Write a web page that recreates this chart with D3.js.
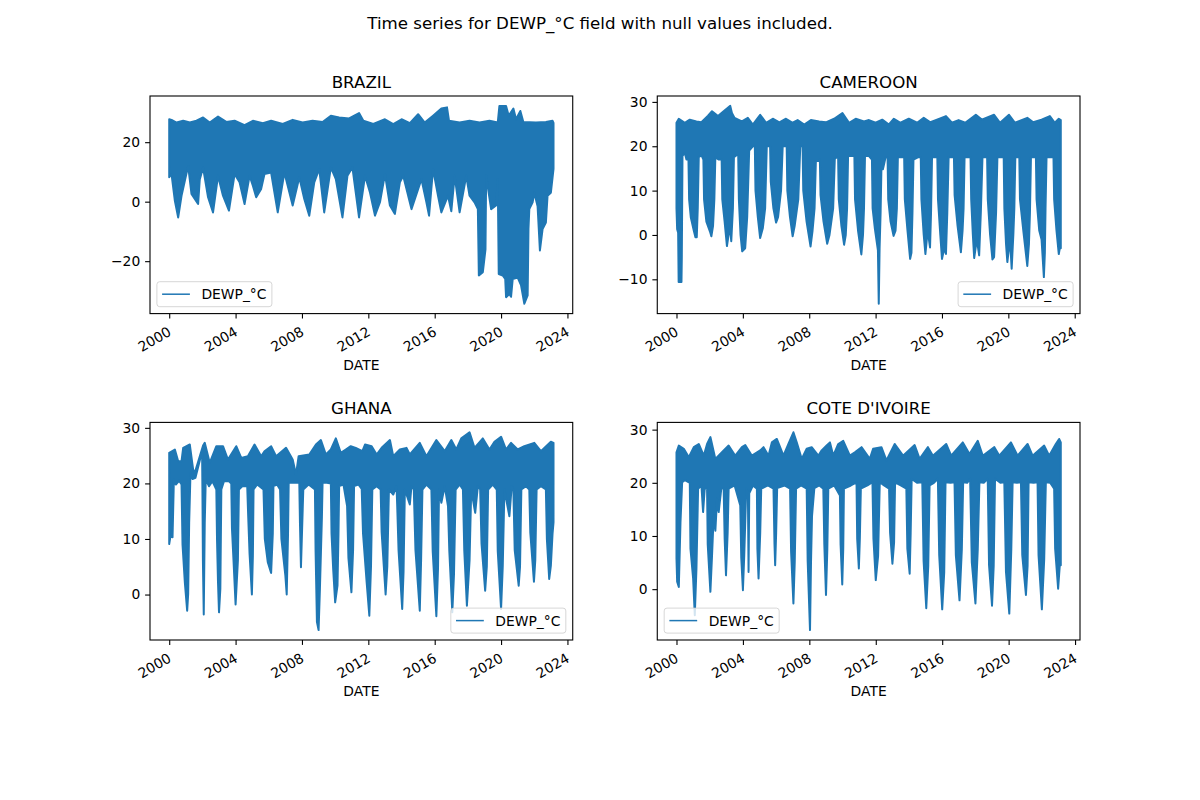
<!DOCTYPE html>
<html>
<head>
<meta charset="utf-8">
<script src="https://cdn.jsdelivr.net/npm/d3@7"></script>
<style>
  body { margin: 0; background: #fff; }
  svg { display: block; font-family: "DejaVu Sans", sans-serif; }
</style>
</head>
<body>
<svg id="chart" width="1200" height="800"></svg>
<script>
// values: [decimal year, dew point °C]
// each series is kept as its upper and lower envelope
const suptitle = "Time series for DEWP_°C field with null values included.";
const seriesName = "DEWP_°C";
const countries = ["BRAZIL", "CAMEROON", "GHANA", "COTE D'IVOIRE"];
const xTickYears = [2000, 2004, 2008, 2012, 2016, 2020, 2024];

const brazilTicks = [-20, 0, 20];
const cameroonTicks = [-10, 0, 10, 20, 30];
const ghanaTicks = [0, 10, 20, 30];
const ivoireTicks = [0, 10, 20, 30];

const brazilUpper = [[2000.0,27.7],[2000.14,27.5],[2000.44,26.6],[2000.84,27.2],[2001.24,26.6],[2001.64,27.2],[2002.04,28.3],[2002.44,26.6],[2002.94,28.6],[2003.44,26.8],[2003.94,27.2],[2004.54,25.7],[2005.04,27.2],[2005.64,26.4],[2006.14,27.2],[2006.84,26.1],[2007.44,27.5],[2008.04,26.6],[2008.64,27.2],[2009.24,26.8],[2009.74,28.9],[2010.24,28.3],[2010.84,28.0],[2011.44,29.8],[2011.7,27.2],[2012.3,26.1],[2013.0,27.7],[2013.5,26.1],[2014.0,27.7],[2014.5,26.4],[2015.0,29.4],[2015.4,26.6],[2015.9,28.9],[2016.4,31.3],[2016.74,31.7],[2016.86,27.2],[2017.5,26.6],[2018.1,27.2],[2018.7,26.6],[2019.3,27.2],[2019.8,26.6],[2019.9,32.2],[2020.3,32.2],[2020.46,28.9],[2020.74,31.3],[2020.9,27.7],[2021.16,30.5],[2021.34,26.8],[2022.1,26.6],[2022.7,26.8],[2023.1,27.2],[2023.16,26.5]];
const brazilLower = [[2000.0,8.2],[2000.14,9.3],[2000.34,0.3],[2000.54,-5.3],[2000.74,2.0],[2000.94,7.0],[2001.14,12.0],[2001.34,2.6],[2001.74,-0.8],[2001.84,7.5],[2002.04,11.5],[2002.34,1.5],[2002.64,-3.6],[2002.94,8.7],[2003.24,2.0],[2003.6,-3.0],[2003.94,9.3],[2004.24,6.5],[2004.54,-0.8],[2004.84,8.7],[2005.04,5.4],[2005.24,1.5],[2005.54,4.3],[2005.74,9.3],[2006.14,9.8],[2006.54,-3.6],[2006.94,9.8],[2007.44,-1.3],[2007.84,8.2],[2008.14,0.9],[2008.44,-4.7],[2008.74,6.5],[2009.04,11.0],[2009.34,-3.6],[2009.74,11.5],[2010.04,7.6],[2010.44,-5.3],[2010.74,8.7],[2011.04,11.5],[2011.44,-5.3],[2011.8,8.7],[2012.1,3.1],[2012.4,-4.7],[2012.7,-0.2],[2013.0,9.3],[2013.3,-1.3],[2013.6,-4.1],[2013.9,6.5],[2014.1,8.7],[2014.6,-2.5],[2015.2,7.6],[2015.5,-0.2],[2015.66,-4.7],[2015.9,11.0],[2016.2,2.0],[2016.4,-3.6],[2016.8,2.0],[2017.0,-3.2],[2017.2,8.7],[2017.5,-3.6],[2017.9,8.7],[2018.1,2.0],[2018.4,-0.2],[2018.6,-2.5],[2018.66,-24.8],[2018.9,-23.7],[2019.06,-16.0],[2019.1,8.7],[2019.4,-2.5],[2019.7,-1.3],[2019.8,7.6],[2019.86,-24.3],[2020.1,-24.8],[2020.25,-26.0],[2020.3,-32.1],[2020.5,-31.0],[2020.6,-32.0],[2020.7,-26.0],[2021.0,-25.5],[2021.2,-28.0],[2021.4,-34.3],[2021.6,-31.5],[2021.65,-9.0],[2021.7,-2.5],[2021.9,-0.2],[2022.0,3.0],[2022.2,-1.5],[2022.34,-16.4],[2022.5,-9.2],[2022.7,-7.0],[2022.8,2.0],[2023.0,3.0],[2023.16,11.0]];

const cameroonUpper = [[2000.0,25.3],[2000.14,26.2],[2000.5,25.3],[2000.8,26.0],[2001.2,25.6],[2001.5,25.4],[2001.9,26.9],[2002.14,27.9],[2002.5,26.8],[2002.84,27.9],[2003.24,29.1],[2003.34,27.5],[2003.5,26.4],[2003.94,25.6],[2004.3,26.4],[2004.6,24.9],[2005.04,27.1],[2005.4,25.3],[2005.8,26.2],[2006.2,25.4],[2006.6,26.2],[2007.0,25.3],[2007.3,25.9],[2007.7,24.9],[2008.1,25.9],[2008.6,25.6],[2009.0,25.4],[2009.5,26.2],[2010.0,27.5],[2010.4,25.3],[2010.8,26.2],[2011.3,25.6],[2011.6,25.9],[2012.0,25.3],[2012.4,26.0],[2012.8,24.9],[2013.1,26.2],[2013.5,25.3],[2014.0,26.2],[2014.5,25.3],[2014.9,26.4],[2015.3,25.4],[2015.7,26.0],[2016.24,26.8],[2016.6,25.3],[2017.0,25.9],[2017.4,25.3],[2018.04,27.1],[2018.4,26.0],[2019.14,27.1],[2019.5,25.3],[2020.04,27.1],[2020.4,25.3],[2021.14,26.4],[2021.5,25.4],[2022.0,26.0],[2022.5,26.8],[2022.8,25.3],[2023.04,26.2],[2023.16,25.9]];
const cameroonLower = [[2000.0,6.0],[2000.04,1.3],[2000.1,0.5],[2000.13,-10.6],[2000.3,-10.6],[2000.32,-5.0],[2000.36,17.8],[2000.5,18.5],[2000.6,17.0],
  [2000.72,17.0],[2000.76,8.0],[2000.86,4.0],[2001.04,1.0],[2001.14,-0.5],[2001.22,-0.5],[2001.28,6.0],[2001.34,17.5],[2001.5,18.0],
  [2001.62,17.0],[2001.66,8.0],[2001.8,3.0],[2002.04,0.5],[2002.1,-0.3],[2002.2,2.0],[2002.28,8.0],[2002.34,17.5],[2002.55,17.0],
  [2002.72,17.0],[2002.76,8.0],[2002.9,3.0],[2003.04,-2.5],[2003.14,0.0],[2003.22,2.0],[2003.3,-1.4],[2003.4,6.0],[2003.46,17.5],[2003.62,18.0],
  [2003.72,18.0],[2003.76,8.0],[2003.86,0.0],[2003.96,-3.7],[2004.14,-3.0],[2004.26,4.0],[2004.38,19.0],[2004.6,20.0],
  [2004.72,20.0],[2004.76,10.0],[2004.9,4.0],[2005.04,-0.7],[2005.2,1.5],[2005.34,6.0],[2005.44,20.0],[2005.56,20.0],
  [2005.64,20.0],[2005.68,12.0],[2005.84,6.0],[2006.0,2.8],[2006.12,4.0],[2006.3,10.0],[2006.4,20.0],[2006.55,20.0],
  [2006.64,20.0],[2006.68,10.0],[2006.84,4.0],[2007.0,-0.3],[2007.12,2.0],[2007.34,8.0],[2007.46,20.0],
  [2007.6,20.0],[2007.64,10.0],[2007.84,3.0],[2008.08,-2.6],[2008.2,1.0],[2008.32,6.0],[2008.4,16.7],[2008.55,16.7],
  [2008.64,17.0],[2008.68,9.0],[2008.86,3.0],[2009.08,-2.0],[2009.22,0.0],[2009.44,6.0],[2009.54,17.2],[2009.66,17.5],
  [2009.74,17.5],[2009.78,8.0],[2009.94,2.0],[2010.1,-2.2],[2010.2,0.0],[2010.28,6.0],[2010.34,17.8],[2010.6,17.8],
  [2010.72,17.8],[2010.76,8.0],[2010.94,1.0],[2011.14,-4.4],[2011.24,0.0],[2011.3,6.0],[2011.36,17.8],[2011.6,17.8],
  [2011.78,17.0],[2011.82,6.0],[2011.96,1.3],[2012.14,-3.5],[2012.19,-15.5],[2012.24,-3.0],[2012.3,5.0],[2012.36,17.0],[2012.44,14.8],[2012.6,17.5],
  [2012.72,17.5],[2012.76,8.0],[2012.9,3.0],[2013.08,-0.2],[2013.2,1.0],[2013.28,6.0],[2013.34,17.5],[2013.55,17.5],
  [2013.72,17.5],[2013.76,8.0],[2013.92,1.0],[2014.08,-5.4],[2014.16,-4.0],[2014.22,5.0],[2014.28,17.0],[2014.55,17.5],
  [2014.72,17.5],[2014.76,8.0],[2014.9,0.0],[2015.0,-4.3],[2015.14,1.0],[2015.28,-2.8],[2015.34,5.0],[2015.4,17.5],[2015.6,17.5],
  [2015.72,17.5],[2015.76,8.0],[2015.9,0.0],[2016.0,-5.4],[2016.14,-3.0],[2016.24,-4.3],[2016.32,5.0],[2016.4,17.5],[2016.6,17.5],
  [2016.72,17.5],[2016.76,9.0],[2016.94,2.0],[2017.14,-3.9],[2017.24,1.0],[2017.3,6.0],[2017.36,17.5],[2017.6,17.5],
  [2017.72,17.5],[2017.76,8.0],[2017.86,0.0],[2017.94,-5.2],[2018.1,-1.0],[2018.24,-4.6],[2018.34,5.0],[2018.44,17.5],[2018.6,17.5],
  [2018.72,17.5],[2018.76,8.0],[2018.9,0.0],[2019.04,-5.5],[2019.14,-5.0],[2019.26,5.0],[2019.34,17.5],[2019.6,17.5],
  [2019.72,17.5],[2019.76,6.0],[2019.86,-2.0],[2019.94,-6.1],[2020.1,-1.0],[2020.2,-7.6],[2020.3,0.0],[2020.36,6.0],[2020.42,17.5],[2020.56,17.5],
  [2020.66,17.5],[2020.7,8.0],[2020.9,1.0],[2021.14,-7.0],[2021.24,-2.0],[2021.3,5.0],[2021.36,17.5],[2021.56,17.5],
  [2021.66,17.5],[2021.7,8.0],[2021.86,1.0],[2022.0,-1.0],[2022.14,-9.5],[2022.2,-4.0],[2022.24,6.0],[2022.3,17.5],[2022.6,17.5],
  [2022.72,17.5],[2022.76,8.0],[2022.9,1.0],[2023.04,-4.3],[2023.1,-3.0],[2023.16,-3.0]];

const ghanaUpper = [[2000.0,25.5],[2000.34,26.1],[2000.54,24.0],[2000.74,24.0],[2000.84,26.4],[2001.24,27.0],[2001.44,22.5],[2001.54,21.9],[2002.04,26.8],[2002.14,27.3],[2002.44,23.7],[2002.84,26.7],[2003.24,26.7],[2003.54,24.3],[2004.04,26.7],[2004.34,24.6],[2004.74,24.9],[2005.14,27.0],[2005.54,24.9],[2005.74,25.8],[2006.14,26.7],[2006.44,24.9],[2007.04,26.4],[2007.44,24.3],[2007.64,21.6],[2007.8,24.9],[2008.44,25.2],[2008.84,27.0],[2009.14,27.8],[2009.44,25.2],[2009.74,26.1],[2010.04,28.1],[2010.34,25.5],[2010.64,26.1],[2010.94,26.7],[2011.24,26.4],[2011.64,25.8],[2011.8,27.0],[2012.2,26.7],[2012.5,25.2],[2012.8,26.4],[2013.3,27.8],[2013.5,24.9],[2013.9,26.1],[2014.3,26.4],[2014.5,25.2],[2015.1,27.3],[2015.5,24.9],[2016.1,27.8],[2016.6,25.8],[2017.0,27.8],[2017.3,26.1],[2017.6,28.1],[2018.1,29.2],[2018.4,26.4],[2018.9,28.1],[2019.3,26.1],[2019.6,27.5],[2020.0,28.4],[2020.3,26.1],[2020.6,27.3],[2021.0,26.1],[2021.4,26.7],[2022.0,27.3],[2022.4,25.8],[2023.0,27.5],[2023.16,27.3]];
const ghanaLower = [[2000.0,9.1],[2000.08,10.6],[2000.2,10.3],[2000.28,20.7],[2000.4,19.8],[2000.6,20.5],[2000.74,19.8],[2000.8,9.0],[2000.94,2.2],[2001.08,-2.9],[2001.14,0.1],[2001.2,12.9],[2001.28,21.9],[2001.4,20.8],[2001.58,21.0],[2001.98,25.8],[2002.0,18.9],[2002.03,6.0],[2002.08,-3.6],[2002.14,12.9],[2002.2,20.7],[2002.4,19.5],[2002.6,20.4],[2002.84,18.9],[2002.88,10.0],[2002.94,2.2],[2003.0,-3.2],[2003.08,1.0],[2003.14,18.9],[2003.3,20.4],[2003.6,20.4],[2003.74,20.0],[2003.78,12.0],[2003.88,5.8],[2004.0,-1.8],[2004.14,6.2],[2004.2,18.9],[2004.4,19.5],[2004.7,19.5],[2004.76,14.0],[2004.84,7.4],[2004.98,0.0],[2005.04,7.0],[2005.08,18.9],[2005.3,19.8],[2005.68,18.9],[2005.76,10.0],[2005.94,5.8],[2006.14,3.9],[2006.24,10.9],[2006.28,19.5],[2006.5,19.8],[2006.68,18.9],[2006.76,10.0],[2007.0,3.4],[2007.08,0.0],[2007.16,10.9],[2007.2,20.1],[2007.5,20.1],[2007.84,20.1],[2007.88,12.9],[2007.94,4.9],[2008.0,10.9],[2008.08,18.9],[2008.4,19.8],[2008.78,18.9],[2008.82,7.8],[2008.9,-4.9],[2009.0,-6.4],[2009.08,1.0],[2009.2,13.9],[2009.24,20.1],[2009.5,20.1],[2009.74,20.0],[2009.78,11.0],[2009.88,4.6],[2010.0,-1.4],[2010.14,1.6],[2010.2,10.9],[2010.24,19.5],[2010.5,19.8],[2010.72,15.9],[2010.8,6.6],[2010.98,0.4],[2011.08,8.0],[2011.14,19.5],[2011.4,19.8],[2011.6,19.0],[2011.68,11.0],[2011.9,2.2],[2012.06,-3.8],[2012.16,5.0],[2012.24,18.9],[2012.5,19.5],[2012.74,18.9],[2012.8,11.2],[2013.04,0.0],[2013.14,5.0],[2013.24,18.9],[2013.5,18.0],[2013.7,19.5],[2013.74,15.9],[2013.82,8.0],[2014.04,-2.6],[2014.12,4.0],[2014.2,18.9],[2014.5,16.2],[2014.6,19.5],[2014.74,18.9],[2014.84,8.0],[2015.1,-2.9],[2015.18,6.2],[2015.26,18.9],[2015.5,19.8],[2015.8,18.9],[2015.88,7.8],[2016.1,-3.9],[2016.2,4.8],[2016.26,18.9],[2016.4,16.5],[2016.6,19.5],[2016.8,15.9],[2016.88,7.8],[2017.06,-3.2],[2017.16,3.6],[2017.26,18.9],[2017.5,19.8],[2017.7,18.9],[2017.78,8.0],[2017.94,-2.0],[2018.1,6.2],[2018.2,18.9],[2018.44,14.7],[2018.6,19.5],[2018.74,18.9],[2018.82,9.2],[2019.04,0.7],[2019.14,5.0],[2019.22,18.9],[2019.5,19.8],[2019.74,18.9],[2019.8,7.8],[2020.0,-2.6],[2020.1,5.0],[2020.2,18.9],[2020.5,14.1],[2020.64,19.5],[2020.74,18.9],[2020.82,8.0],[2021.06,1.6],[2021.14,5.0],[2021.22,18.9],[2021.5,19.5],[2021.7,18.9],[2021.76,11.2],[2021.98,2.3],[2022.06,6.2],[2022.14,18.9],[2022.4,19.5],[2022.7,18.9],[2022.76,10.0],[2022.9,2.8],[2023.0,5.2],[2023.1,10.9],[2023.16,13.0]];

const ivoireUpper = [[2000.0,25.75],[2000.14,27.0],[2000.44,26.4],[2000.74,24.8],[2001.04,26.7],[2001.34,27.3],[2001.64,25.1],[2001.84,27.3],[2002.04,28.6],[2002.34,24.5],[2002.84,26.1],[2003.14,27.0],[2003.54,25.1],[2003.94,26.7],[2004.14,27.1],[2004.54,25.1],[2005.04,26.1],[2005.24,26.7],[2005.54,25.1],[2005.74,27.6],[2006.04,28.25],[2006.44,25.1],[2006.74,27.3],[2007.04,29.5],[2007.24,27.6],[2007.54,24.5],[2007.84,26.4],[2008.14,26.7],[2008.54,25.1],[2008.74,26.1],[2009.04,27.0],[2009.24,27.6],[2009.44,25.1],[2009.74,27.3],[2010.04,27.9],[2010.44,25.1],[2010.74,25.75],[2011.14,26.7],[2011.64,24.5],[2011.84,26.4],[2012.34,26.7],[2012.64,24.2],[2013.14,27.3],[2013.64,25.1],[2014.34,27.1],[2014.64,24.5],[2015.14,26.7],[2015.44,25.1],[2016.24,27.3],[2016.54,25.1],[2017.24,27.6],[2017.64,25.4],[2018.14,27.9],[2018.44,25.1],[2019.14,26.7],[2019.44,25.1],[2020.14,27.6],[2020.54,25.1],[2021.14,27.3],[2021.44,25.1],[2022.14,27.0],[2022.44,25.1],[2022.84,27.3],[2023.04,28.25],[2023.14,27.6]];
const ivoireLower = [[2000.0,5.75],[2000.04,1.4],[2000.14,0.4],[2000.24,12.6],[2000.34,20.1],[2000.5,20.5],[2000.8,20.0],[2000.84,7.6],[2001.0,2.0],[2001.1,-4.9],[2001.2,3.9],[2001.3,18.9],[2001.5,19.5],[2001.6,14.5],[2001.7,19.0],[2001.84,18.9],[2001.88,8.4],[2002.04,-0.5],[2002.14,6.4],[2002.24,13.9],[2002.34,11.0],[2002.44,17.0],[2002.54,14.5],[2002.7,19.0],[2002.84,18.9],[2002.9,9.5],[2002.98,2.6],[2003.08,10.6],[2003.14,18.9],[2003.5,19.5],[2003.84,15.75],[2003.9,5.9],[2004.0,-0.2],[2004.08,6.4],[2004.2,18.9],[2004.3,18.0],[2004.34,3.25],[2004.38,18.0],[2004.6,19.5],[2004.84,18.9],[2004.87,7.6],[2004.94,2.0],[2005.04,10.6],[2005.1,18.9],[2005.5,19.5],[2005.84,18.9],[2005.9,8.5],[2005.94,4.5],[2006.0,10.6],[2006.06,19.0],[2006.5,19.5],[2006.84,18.9],[2006.9,7.1],[2007.04,-2.7],[2007.12,5.1],[2007.2,18.9],[2007.5,19.5],[2007.84,18.9],[2007.9,5.25],[2008.04,-7.7],[2008.1,5.1],[2008.16,13.75],[2008.3,19.0],[2008.6,19.5],[2008.84,18.9],[2008.9,8.4],[2009.0,-1.1],[2009.08,7.5],[2009.14,18.9],[2009.5,19.5],[2009.84,17.6],[2009.88,8.4],[2009.98,0.9],[2010.04,7.6],[2010.08,18.9],[2010.5,19.5],[2010.84,20.1],[2010.88,9.5],[2010.98,3.9],[2011.04,9.5],[2011.1,18.9],[2011.5,19.5],[2011.8,20.1],[2011.86,9.5],[2012.0,1.7],[2012.14,6.25],[2012.24,20.1],[2012.5,19.5],[2012.8,18.9],[2012.86,10.6],[2013.0,4.8],[2013.1,8.75],[2013.16,20.1],[2013.5,19.5],[2013.84,18.9],[2013.9,7.6],[2014.04,2.9],[2014.1,10.6],[2014.16,20.75],[2014.5,20.0],[2014.8,20.1],[2014.88,5.25],[2015.04,-3.6],[2015.16,4.4],[2015.24,19.5],[2015.5,20.0],[2015.74,20.75],[2015.82,6.4],[2016.0,-3.8],[2016.12,3.1],[2016.2,20.1],[2016.5,20.0],[2016.74,20.1],[2016.82,6.4],[2017.04,-2.1],[2017.18,7.5],[2017.26,20.1],[2017.5,20.0],[2017.68,20.75],[2017.78,5.1],[2018.0,-2.7],[2018.14,7.5],[2018.24,20.1],[2018.5,20.0],[2018.74,20.75],[2018.82,4.5],[2019.0,-3.1],[2019.1,4.4],[2019.18,20.75],[2019.5,20.0],[2019.74,20.1],[2019.84,3.25],[2020.04,-4.6],[2020.16,7.5],[2020.24,20.1],[2020.5,20.0],[2020.74,20.1],[2020.82,6.4],[2021.04,-1.1],[2021.14,4.4],[2021.2,20.1],[2021.5,20.0],[2021.74,20.1],[2021.8,6.4],[2022.0,-3.8],[2022.14,5.6],[2022.24,20.1],[2022.5,20.0],[2022.74,18.9],[2022.8,7.6],[2022.98,0.1],[2023.08,4.5],[2023.14,4.5]];

const blue = "#1f77b4";

// figure geometry, in the same fractions matplotlib uses
const fig = { left: 150, right: 1080, top: 96, bottom: 640, wspace: 0.2, hspace: 0.5 };
const axW = (fig.right - fig.left) / (2 + fig.wspace);
const axH = (fig.bottom - fig.top) / (2 + fig.hspace);

// decimal year -> Date
function toDate(t) {
  const yr = Math.floor(t);
  const s = Date.UTC(yr, 0, 1), e = Date.UTC(yr + 1, 0, 1);
  return new Date(s + (t - yr) * (e - s));
}

const panels = [
  { title: countries[0], upper: brazilUpper, lower: brazilLower, yTicks: brazilTicks, legend: "left" },
  { title: countries[1], upper: cameroonUpper, lower: cameroonLower, yTicks: cameroonTicks, legend: "right" },
  { title: countries[2], upper: ghanaUpper, lower: ghanaLower, yTicks: ghanaTicks, legend: "right" },
  { title: countries[3], upper: ivoireUpper, lower: ivoireLower, yTicks: ivoireTicks, legend: "left" }
];

const svg = d3.select("#chart");

svg.append("text")
    .attr("x", 600)
    .attr("y", 28.5)
    .attr("text-anchor", "middle")
    .attr("font-size", 16.67)
    .text(suptitle);

const minus = d => d < 0 ? "\u2212" + Math.abs(d) : String(d);

panels.forEach((p, i) => {
  const col = i % 2, row = Math.floor(i / 2);
  const x0 = fig.left + col * axW * (1 + fig.wspace);
  const y0 = fig.top + row * axH * (1 + fig.hspace);
  const g = svg.append("g").attr("transform", `translate(${x0},${y0})`);

  const all = p.upper.concat(p.lower);
  const tExt = d3.extent(all, d => toDate(d[0]).getTime());
  const vExt = d3.extent(all, d => d[1]);
  const tPad = (tExt[1] - tExt[0]) * 0.05;
  const vPad = (vExt[1] - vExt[0]) * 0.05;

  const x = d3.scaleUtc()
      .domain([new Date(tExt[0] - tPad), new Date(tExt[1] + tPad)])
      .range([0, axW]);
  const y = d3.scaleLinear()
      .domain([vExt[0] - vPad, vExt[1] + vPad])
      .range([axH, 0]);

  // the band: upper edge forward, lower edge back
  const band = p.upper.concat(p.lower.slice().reverse());
  const outline = d3.line()
      .x(d => x(toDate(d[0])))
      .y(d => y(d[1]))
      .curve(d3.curveLinearClosed);

  g.append("path")
      .attr("d", outline(band))
      .attr("fill", blue)
      .attr("stroke", blue)
      .attr("stroke-width", 2)
      .attr("stroke-linejoin", "round");

  // x axis
  const gx = g.append("g")
      .attr("transform", `translate(0,${axH})`)
      .call(d3.axisBottom(x)
          .tickValues(xTickYears.map(yr => new Date(Date.UTC(yr, 0, 1))))
          .tickFormat(d3.utcFormat("%Y"))
          .tickSize(4.9)
          .tickSizeOuter(0));
  gx.attr("font-family", null).attr("font-size", 13.89);
  gx.select(".domain").remove();
  gx.selectAll(".tick line").attr("stroke", "#000").attr("stroke-width", 1.1);
  gx.selectAll(".tick text")
      .attr("y", null)
      .attr("dy", null)
      .attr("fill", "#000")
      .attr("text-anchor", "end")
      .attr("transform", "translate(2.5,21) rotate(-30)");

  // y axis
  const gy = g.append("g")
      .call(d3.axisLeft(y)
          .tickValues(p.yTicks)
          .tickFormat(minus)
          .tickSize(4.9)
          .tickPadding(4.9)
          .tickSizeOuter(0));
  gy.attr("font-family", null).attr("font-size", 13.89);
  gy.select(".domain").remove();
  gy.selectAll(".tick line").attr("stroke", "#000").attr("stroke-width", 1.1);
  gy.selectAll(".tick text").attr("fill", "#000");

  // frame
  g.append("rect")
      .attr("width", axW)
      .attr("height", axH)
      .attr("fill", "none")
      .attr("stroke", "#000")
      .attr("stroke-width", 1.1);

  g.append("text")
      .attr("x", axW / 2)
      .attr("y", -8.3)
      .attr("text-anchor", "middle")
      .attr("font-size", 16.67)
      .text(p.title);

  g.append("text")
      .attr("x", axW / 2)
      .attr("y", axH + 56.5)
      .attr("text-anchor", "middle")
      .attr("font-size", 13.89)
      .text("DATE");

  // legend
  const lw = 115, lh = 25, pad = 6.9;
  const lx = p.legend === "left" ? pad : axW - pad - lw;
  const ly = axH - pad - lh;
  const lg = g.append("g").attr("transform", `translate(${lx},${ly})`);
  lg.append("rect")
      .attr("width", lw)
      .attr("height", lh)
      .attr("rx", 2.8)
      .attr("fill", "#fff")
      .attr("fill-opacity", 0.8)
      .attr("stroke", "#ccc")
      .attr("stroke-opacity", 0.8);
  lg.append("line")
      .attr("x1", 5.2).attr("x2", 33)
      .attr("y1", lh / 2).attr("y2", lh / 2)
      .attr("stroke", blue)
      .attr("stroke-width", 1.5);
  lg.append("text")
      .attr("x", 44.5)
      .attr("y", lh / 2 + 5)
      .attr("font-size", 13.89)
      .text(seriesName);
});
</script>
</body>
</html>
